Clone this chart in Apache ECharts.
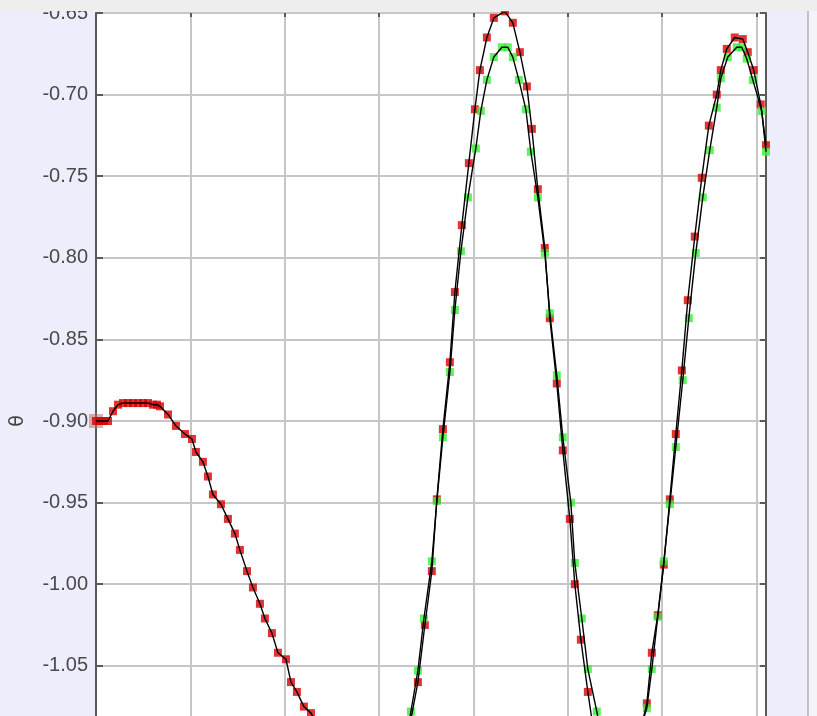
<!DOCTYPE html>
<html><head><meta charset="utf-8">
<script src="https://cdn.jsdelivr.net/npm/echarts@6/dist/echarts.min.js"></script>
<style>
html,body{margin:0;padding:0;overflow:hidden;background:#ededfb;width:817px;height:716px}
#c{width:817px;height:900px}
</style></head><body><div id="c"></div>
<script>
// y axis settings
const yMin = -1.15, yMax = -0.65, yStep = 0.05;
const xMin = 0, xMax = 7.1, xStep = 1;
const yName = 'θ';

// initial state marker
const startT = [0];
const startTheta = [-0.900];

// red series
const redT = [0, 0.042, 0.085, 0.127, 0.18, 0.233, 0.286, 0.339, 0.392, 0.445, 0.498, 0.551, 0.604, 0.646,
  0.678, 0.763, 0.847, 0.943, 1.017, 1.059, 1.133, 1.186, 1.239, 1.324, 1.398, 1.472, 1.525, 1.600, 1.663,
  1.737, 1.790, 1.864, 1.928, 2.013, 2.066, 2.129, 2.203, 2.278,
  2.35, 2.45, 2.55, 2.65, 2.75, 2.85, 2.95, 3.05, 3.15, 3.25, 3.33,
  3.411, 3.485, 3.559, 3.612, 3.676, 3.750, 3.803, 3.877, 3.951, 4.015, 4.068, 4.142, 4.216, 4.333, 4.417,
  4.492, 4.566, 4.619, 4.682, 4.756, 4.809, 4.883, 4.947, 5.021, 5.074, 5.138, 5.212,
  5.286, 5.36, 5.44, 5.52, 5.60, 5.68, 5.76,
  5.837, 5.890, 5.953, 6.017, 6.081, 6.144, 6.208, 6.271, 6.345, 6.419, 6.494, 6.578, 6.621, 6.684,
  6.769, 6.854, 6.907, 6.970, 7.044, 7.1];
const redTheta = [-0.900, -0.900, -0.900, -0.900, -0.894, -0.890, -0.889, -0.889, -0.889, -0.889, -0.889, -0.889, -0.890, -0.890,
  -0.891, -0.896, -0.903, -0.908, -0.911, -0.919, -0.925, -0.934, -0.945, -0.951, -0.960, -0.969, -0.979, -0.992, -1.002,
  -1.012, -1.021, -1.030, -1.042, -1.046, -1.060, -1.066, -1.075, -1.079,
  -1.086, -1.093, -1.100, -1.107, -1.113, -1.118, -1.121, -1.120, -1.114, -1.102, -1.085,
  -1.060, -1.025, -0.992, -0.948, -0.905, -0.864, -0.821, -0.780, -0.742, -0.709, -0.685, -0.665, -0.653, -0.649, -0.656,
  -0.674, -0.695, -0.721, -0.758, -0.794, -0.837, -0.877, -0.918, -0.960, -1.000, -1.034, -1.066,
  -1.095, -1.118, -1.133, -1.138, -1.132, -1.115, -1.092,
  -1.073, -1.042, -1.019, -0.988, -0.948, -0.908, -0.869, -0.826, -0.787, -0.751, -0.719, -0.700, -0.685, -0.672,
  -0.665, -0.666, -0.674, -0.685, -0.706, -0.731];

// green series
const greenT = [3.15, 3.25, 3.337, 3.411, 3.475, 3.559, 3.612, 3.676, 3.750, 3.803, 3.867, 3.941, 4.025, 4.078,
  4.142, 4.216, 4.301, 4.364, 4.417, 4.481, 4.555, 4.608, 4.682, 4.756, 4.809, 4.883, 4.947, 5.032, 5.074,
  5.148, 5.212, 5.307, 5.40, 5.50, 5.60, 5.70, 5.77,
  5.837, 5.890, 5.953, 6.017, 6.081, 6.144, 6.218, 6.282, 6.356, 6.430, 6.504, 6.578, 6.621, 6.695,
  6.790, 6.843, 6.896, 6.960, 7.055, 7.1];
const greenTheta = [-1.128, -1.106, -1.078, -1.053, -1.021, -0.986, -0.949, -0.910, -0.870, -0.832, -0.796, -0.763, -0.733, -0.710,
  -0.691, -0.677, -0.671, -0.671, -0.677, -0.691, -0.709, -0.735, -0.763, -0.797, -0.834, -0.872, -0.910, -0.950, -0.987,
  -1.021, -1.052, -1.078, -1.105, -1.118, -1.115, -1.096, -1.088,
  -1.076, -1.052, -1.020, -0.986, -0.951, -0.916, -0.875, -0.837, -0.797, -0.763, -0.734, -0.708, -0.690, -0.677,
  -0.671, -0.671, -0.678, -0.691, -0.710, -0.735];

const zip = (a, b) => a.map((v, i) => [v, b[i]]);

const chart = echarts.init(document.getElementById('c'), null, {renderer: 'canvas'});
const gridCol = '#c6c6c6';
const axisCol = '#5a5a5a';
chart.setOption({
  backgroundColor: '#ededfb',
  animation: false,
  grid: {left: 96, right: 51, top: 13, bottom: 71, show: true, backgroundColor: '#ffffff', borderWidth: 0},
  xAxis: [
    {type: 'value', min: xMin, max: xMax, interval: xStep, position: 'bottom',
     axisLine: {show: false}, axisTick: {show: false}, axisLabel: {show: false},
     splitLine: {show: true, lineStyle: {color: gridCol, width: 2}}},
    {type: 'value', min: xMin, max: xMax, interval: xStep, position: 'top',
     axisLine: {show: false}, axisTick: {show: true, inside: true, length: 4, lineStyle: {color: axisCol, width: 2}},
     axisLabel: {show: false}, splitLine: {show: false}}
  ],
  yAxis: [
    {type: 'value', min: yMin, max: yMax, interval: yStep, position: 'left',
     name: yName, nameLocation: 'middle', nameGap: 68, nameRotate: 90,
     nameTextStyle: {fontFamily: 'DejaVu Sans', fontSize: 19, color: '#444'},
     axisLine: {show: true, onZero: false, lineStyle: {color: axisCol, width: 2}},
     axisTick: {show: true, inside: true, length: 7, lineStyle: {color: axisCol, width: 2}},
     axisLabel: {show: true, margin: 8, fontFamily: 'Liberation Sans', fontSize: 20, color: '#4a4a4a',
       formatter: v => v.toFixed(2)},
     splitLine: {show: true, lineStyle: {color: gridCol, width: 2}}},
    {type: 'value', min: yMin, max: yMax, interval: yStep, position: 'right',
     axisLine: {show: true, onZero: false, lineStyle: {color: axisCol, width: 2}},
     axisTick: {show: true, inside: true, length: 6, lineStyle: {color: axisCol, width: 2}},
     axisLabel: {show: false}, splitLine: {show: false}}
  ],
  series: [
    {type: 'scatter', data: zip(startT, startTheta), symbol: 'rect', symbolSize: 14, clip: false, z: 3,
     itemStyle: {color: 'rgba(185,110,90,0.65)'}},
    {type: 'scatter', data: zip(redT, redTheta), symbol: 'rect', symbolSize: 8, clip: false, z: 4,
     itemStyle: {color: '#d80000'}},
    {type: 'scatter', data: zip(greenT, greenTheta), symbol: 'rect', symbolSize: 8, clip: false, z: 5,
     itemStyle: {color: '#38ec38'}},
    {type: 'line', data: zip(redT, redTheta), showSymbol: false, symbol: 'none', z: 6,
     lineStyle: {color: '#000', width: 1.4}},
    {type: 'line', data: zip(greenT, greenTheta), showSymbol: false, symbol: 'none', z: 6,
     lineStyle: {color: '#000', width: 1.4}}
  ],
  graphic: [
    {type: 'rect', left: 0, top: 0, z: 100, shape: {width: 817, height: 11}, style: {fill: '#eeeeee'}},
    {type: 'rect', left: 807, top: 11, z: 100, shape: {width: 2, height: 900}, style: {fill: '#c0c0c8'}},
    {type: 'rect', left: 809, top: 11, z: 100, shape: {width: 8, height: 900}, style: {fill: '#f4f4f8'}}
  ]
});
</script></body></html>
